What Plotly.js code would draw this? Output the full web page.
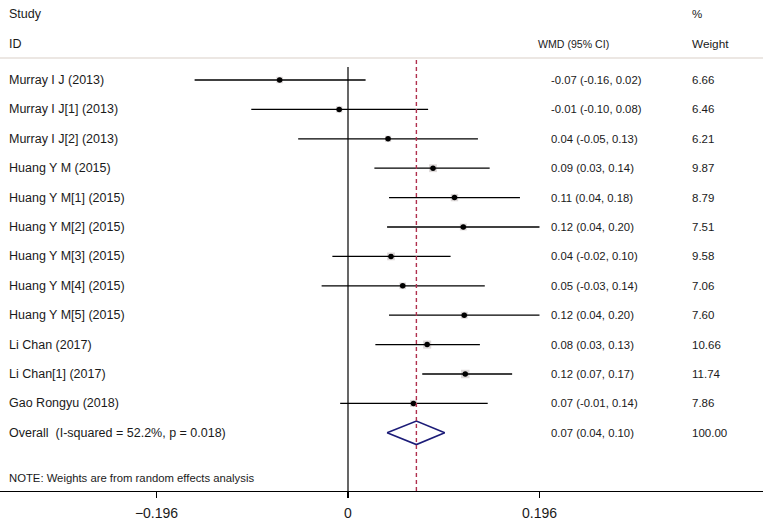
<!DOCTYPE html>
<html>
<head>
<meta charset="utf-8">
<script src="https://cdn.plot.ly/plotly-3.0.1.min.js"></script>
<style>html,body{margin:0;padding:0;background:#fff;}#chart{width:763px;height:523px;}</style>
</head>
<body>
<div id="chart"></div>
<script>
// ---- data ----
const studies = [
  "Murray I J (2013)", "Murray I J[1] (2013)", "Murray I J[2] (2013)",
  "Huang Y M (2015)", "Huang Y M[1] (2015)", "Huang Y M[2] (2015)",
  "Huang Y M[3] (2015)", "Huang Y M[4] (2015)", "Huang Y M[5] (2015)",
  "Li Chan (2017)", "Li Chan[1] (2017)", "Gao Rongyu (2018)"
];
const effect = [-0.070, -0.009, 0.041, 0.087, 0.109, 0.118, 0.044, 0.056, 0.119, 0.081, 0.120, 0.067];
const ciLow  = [-0.157, -0.099, -0.051, 0.027, 0.042, 0.040, -0.016, -0.027, 0.042, 0.028, 0.076, -0.008];
const ciHigh = [0.018, 0.082, 0.133, 0.145, 0.176, 0.196, 0.105, 0.140, 0.196, 0.135, 0.168, 0.143];
const wmdLabels = [
  "-0.07 (-0.16, 0.02)", "-0.01 (-0.10, 0.08)", "0.04 (-0.05, 0.13)",
  "0.09 (0.03, 0.14)", "0.11 (0.04, 0.18)", "0.12 (0.04, 0.20)",
  "0.04 (-0.02, 0.10)", "0.05 (-0.03, 0.14)", "0.12 (0.04, 0.20)",
  "0.08 (0.03, 0.13)", "0.12 (0.07, 0.17)", "0.07 (-0.01, 0.14)"
];
const weights = [6.66, 6.46, 6.21, 9.87, 8.79, 7.51, 9.58, 7.06, 7.60, 10.66, 11.74, 7.86];
const weightLabels = ["6.66", "6.46", "6.21", "9.87", "8.79", "7.51", "9.58", "7.06", "7.60", "10.66", "11.74", "7.86"];
const overallLabel = "Overall\u00a0\u00a0(I-squared = 52.2%, p = 0.018)";
const overallEffect = 0.070;
const overallLow = 0.040;
const overallHigh = 0.099;
const overallWmd = "0.07 (0.04, 0.10)";
const overallWeight = "100.00";
const noteText = "NOTE: Weights are from random effects analysis";
const tickVals = [-0.196, 0, 0.196];
const tickText = ["\u22120.196", "0", "0.196"];

// ---- build chart ----
const rows = studies.map((_, i) => i);
const overallRow = studies.length;
const FONT = "Liberation Sans, Arial, sans-serif";
const TXT = "#1a1a1a";

const maxW = Math.max(...weights);
const boxSizes = weights.map(w => 8.5 * Math.sqrt(w / maxW));

const traces = [
  {
    type: "scatter", mode: "markers", x: effect, y: rows,
    marker: {symbol: "square", size: boxSizes, color: "#cfc7c7", line: {width: 0}},
    hoverinfo: "skip", showlegend: false
  },
  {
    type: "scatter", mode: "markers", x: effect, y: rows,
    marker: {symbol: "circle", size: 5.5, color: "#000"},
    error_x: {
      type: "data", symmetric: false,
      array: ciHigh.map((h, i) => h - effect[i]),
      arrayminus: ciLow.map((l, i) => effect[i] - l),
      width: 0, thickness: 1.3, color: "#000"
    },
    showlegend: false
  },
  {
    type: "scatter", mode: "lines",
    x: [overallLow, overallEffect, overallHigh, overallEffect, overallLow],
    y: [overallRow, overallRow - 0.4, overallRow, overallRow + 0.4, overallRow],
    line: {color: "#1c1c78", width: 1.6},
    showlegend: false
  }
];

const annotations = [];
function addText(text, xPaper, y, size, anchor) {
  annotations.push({
    text: text, xref: "paper", yref: "y", x: xPaper, y: y,
    xanchor: anchor || "left", yanchor: "middle", showarrow: false,
    font: {family: FONT, size: size, color: TXT}
  });
}
const px = v => v / 763;
const rowOfPx = p => (p - 80) / 29.4;

addText("Study", px(7), rowOfPx(14), 12.5);
addText("ID", px(7), rowOfPx(44), 12.5);
addText("%", px(690), rowOfPx(14), 11.5);
addText("WMD (95% CI)", px(536), rowOfPx(44), 10.6);
addText("Weight", px(690), rowOfPx(44), 11.8);
studies.forEach((s, i) => {
  addText(s, px(7), i, 12.5);
  addText(wmdLabels[i], px(549), i, 11.3);
  addText(weightLabels[i], px(690), i, 11.5);
});
addText(overallLabel, px(7), overallRow, 12.5);
addText(overallWmd, px(549), overallRow, 11.3);
addText(overallWeight, px(690), overallRow, 11.5);
addText(noteText, px(7), rowOfPx(478), 11.3);

const shapes = [
  {type: "line", xref: "paper", yref: "y", x0: 0, x1: 1, y0: rowOfPx(58), y1: rowOfPx(58),
   line: {color: "#d9cfc8", width: 1.2}},
  {type: "line", xref: "x", yref: "y", x0: 0, x1: 0, y0: rowOfPx(67), y1: rowOfPx(491),
   line: {color: "#000", width: 1.2}},
  {type: "line", xref: "x", yref: "y", x0: overallEffect, x1: overallEffect, y0: rowOfPx(60), y1: rowOfPx(491),
   line: {color: "#b0304e", width: 1.4, dash: "4px,3px"}}
];

const layout = {
  width: 763, height: 523,
  margin: {l: 0, r: 0, t: 0, b: 32, pad: 0},
  paper_bgcolor: "#fff", plot_bgcolor: "#fff",
  showlegend: false,
  xaxis: {
    range: [-348 / 977, 415 / 977],
    tickvals: tickVals, ticktext: tickText,
    ticks: "outside", ticklen: 6, tickwidth: 1.2, tickcolor: "#000",
    showline: true, linecolor: "#000", linewidth: 1.2,
    showgrid: false, zeroline: false,
    tickfont: {family: FONT, size: 14, color: TXT},
    ticklabelstandoff: 3,
    fixedrange: true
  },
  yaxis: {
    range: [rowOfPx(491), rowOfPx(0)],
    showgrid: false, zeroline: false, showticklabels: false, showline: false, ticks: "",
    fixedrange: true
  },
  annotations: annotations,
  shapes: shapes
};

Plotly.newPlot("chart", traces, layout, {displayModeBar: false, staticPlot: true});
</script>
</body>
</html>
